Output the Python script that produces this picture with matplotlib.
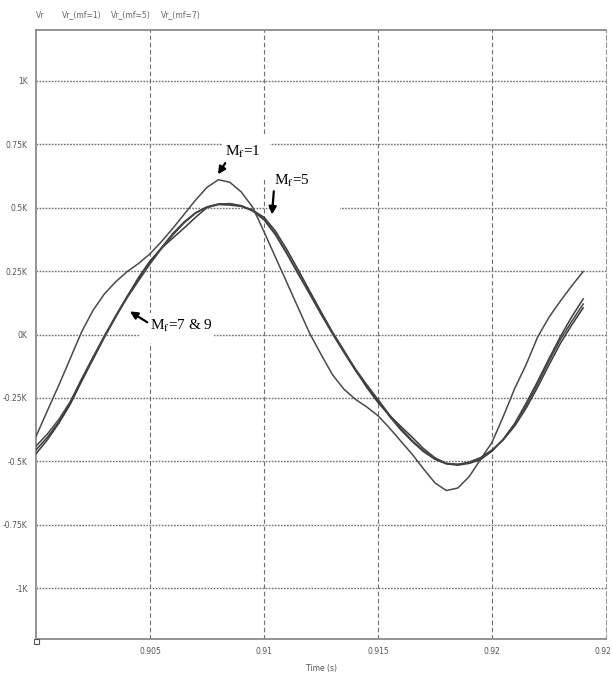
import matplotlib
matplotlib.use("Agg")
import matplotlib.pyplot as plt
from matplotlib.patches import Rectangle

# Time samples (s) and read-off voltages (V)
t = [0.9000, 0.9005, 0.9010, 0.9015, 0.9020, 0.9025, 0.9030, 0.9035, 0.9040, 0.9045,
     0.9050, 0.9055, 0.9060, 0.9065, 0.9070, 0.9075, 0.9080, 0.9085, 0.9090, 0.9095,
     0.9100, 0.9105, 0.9110, 0.9115, 0.9120, 0.9125, 0.9130, 0.9135, 0.9140, 0.9145,
     0.9150, 0.9155, 0.9160, 0.9165, 0.9170, 0.9175, 0.9180, 0.9185, 0.9190, 0.9195,
     0.9200, 0.9205, 0.9210, 0.9215, 0.9220, 0.9225, 0.9230, 0.9235, 0.9240]

vr = [-455, -405, -345, -272, -178, -90, -5, 75, 150, 218,
      282, 342, 398, 444, 480, 503, 514, 515, 506, 487,
      452, 393, 318, 238, 160, 80, 3, -70, -140, -202,
      -262, -322, -376, -422, -462, -492, -510, -515, -508, -493,
      -460, -412, -350, -270, -185, -95, -8, 70, 140]

vr_mf1 = [-402, -300, -200, -95, 10, 95, 160, 208, 248, 280,
          318, 366, 418, 474, 530, 580, 610, 600, 562, 502,
          405, 305, 205, 105, 5, -78, -158, -215, -255, -285,
          -320, -368, -420, -472, -530, -585, -615, -605, -560, -492,
          -425, -322, -212, -118, -10, 68, 132, 192, 248]

vr_mf5 = [-470, -415, -350, -275, -185, -98, -12, 70, 150, 225,
          290, 340, 380, 420, 462, 500, 512, 510, 505, 490,
          462, 408, 335, 255, 172, 90, 10, -62, -138, -208,
          -268, -318, -362, -405, -450, -486, -508, -512, -503, -485,
          -455, -415, -360, -290, -208, -120, -35, 38, 105]

vr_mf7 = [-440, -392, -335, -265, -175, -90, -8, 70, 145, 212,
          278, 338, 392, 440, 478, 502, 514, 516, 508, 490,
          456, 398, 322, 243, 163, 84, 8, -64, -134, -197,
          -256, -316, -370, -418, -458, -490, -508, -512, -505, -488,
          -458, -412, -352, -280, -195, -105, -20, 52, 120]

legend_names = ["Vr", "Vr_(mf=1)", "Vr_(mf=5)", "Vr_(mf=7)"]
y_ticks = [1000, 750, 500, 250, 0, -250, -500, -750, -1000]
y_labels = ["1K", "0.75K", "0.5K", "0.25K", "0K", "-0.25K", "-0.5K", "-0.75K", "-1K"]
x_ticks = [0.905, 0.91, 0.915, 0.92]
x_labels = ["0.905", "0.91", "0.915", "0.92"]

plt.rcParams["mathtext.fontset"] = "stix"

fig = plt.figure(figsize=(6.12, 6.79), dpi=100)
ax = fig.add_axes([36 / 612, 40 / 679, 570 / 612, 609 / 679])

grey = "#6e6e6e"
ax.set_xlim(0.9, 0.925)
ax.set_ylim(-1200, 1200)
ax.set_xticks(x_ticks)
ax.set_xticklabels(x_labels)
ax.set_yticks(y_ticks)
ax.set_yticklabels(y_labels)
ax.tick_params(length=0, labelsize=5.5, labelcolor="#555555", pad=6)
ax.set_axisbelow(True)
ax.grid(axis="y", color=grey, lw=1.0, linestyle=(0, (1.2, 1.0)))
ax.grid(axis="x", color=grey, lw=0.8, linestyle=(0, (4, 2.5)))
for side in ["left", "bottom", "top"]:
    ax.spines[side].set_color("#8a8a8a")
    ax.spines[side].set_linewidth(1.3)
ax.spines["right"].set_color("#9a9a9a")
ax.spines["right"].set_linewidth(0.8)
ax.spines["right"].set_linestyle((0, (4, 2.5)))

# the last tick label is cut by the image edge in the source, only "0.92" shows
fig.text(611 / 612, 1 - 651 / 679, "0.92", fontsize=5.5, color="#555555",
         ha="right", va="center")

# white patches where the annotation boxes hide the grid
for (x0, x1, y0, y1) in [(0.90816, 0.91026, 615, 790),
                         (0.91035, 0.91333, 481, 662),
                         (0.90456, 0.90781, -35, 83)]:
    ax.add_patch(Rectangle((x0, y0), x1 - x0, y1 - y0, fc="white", ec="none", zorder=1))

ax.plot(t, vr, color="#3c3c3c", lw=1.1, zorder=3)
ax.plot(t, vr_mf1, color="#4a4a4a", lw=1.1, zorder=3)
ax.plot(t, vr_mf5, color="#3a3a3a", lw=1.1, zorder=3)
ax.plot(t, vr_mf7, color="#454545", lw=1.1, zorder=3)

serif = "Liberation Serif"
arrow = dict(arrowstyle="-|>", color="black", lw=1.6, mutation_scale=11, shrinkA=0, shrinkB=0)
ax.annotate(r"M$_{\rm f}$=1", xy=(0.90798, 631), xytext=(0.90830, 718),
            fontsize=11, family=serif, va="center", ha="left", zorder=4,
            arrowprops=dict(arrow, relpos=(0.05, 0.0)))
ax.annotate(r"M$_{\rm f}$=5", xy=(0.91035, 473), xytext=(0.91044, 607),
            fontsize=11, family=serif, va="center", ha="left", zorder=4,
            arrowprops=dict(arrow, relpos=(0.0, 0.0)))
ax.annotate(r"M$_{\rm f}$=7 & 9", xy=(0.90412, 91), xytext=(0.90500, 35),
            fontsize=11, family=serif, va="center", ha="left", zorder=4,
            arrowprops=dict(arrow, relpos=(0.0, 0.6)))

# header names
for name, xpx in zip(legend_names, [36, 62, 111, 161]):
    fig.text(xpx / 612, 1 - 15 / 679, name, fontsize=5.5, color="#666666", va="center")

fig.text(321 / 612, 1 - 668 / 679, "Time (s)", fontsize=5.5, color="#555555",
         ha="center", va="center")
fig.patches.append(Rectangle((34 / 612, (679 - 644) / 679), 5 / 612, 5 / 679,
                             transform=fig.transFigure, fill=False, ec="#555555", lw=0.8))

fig.savefig("out.png", dpi=100)
